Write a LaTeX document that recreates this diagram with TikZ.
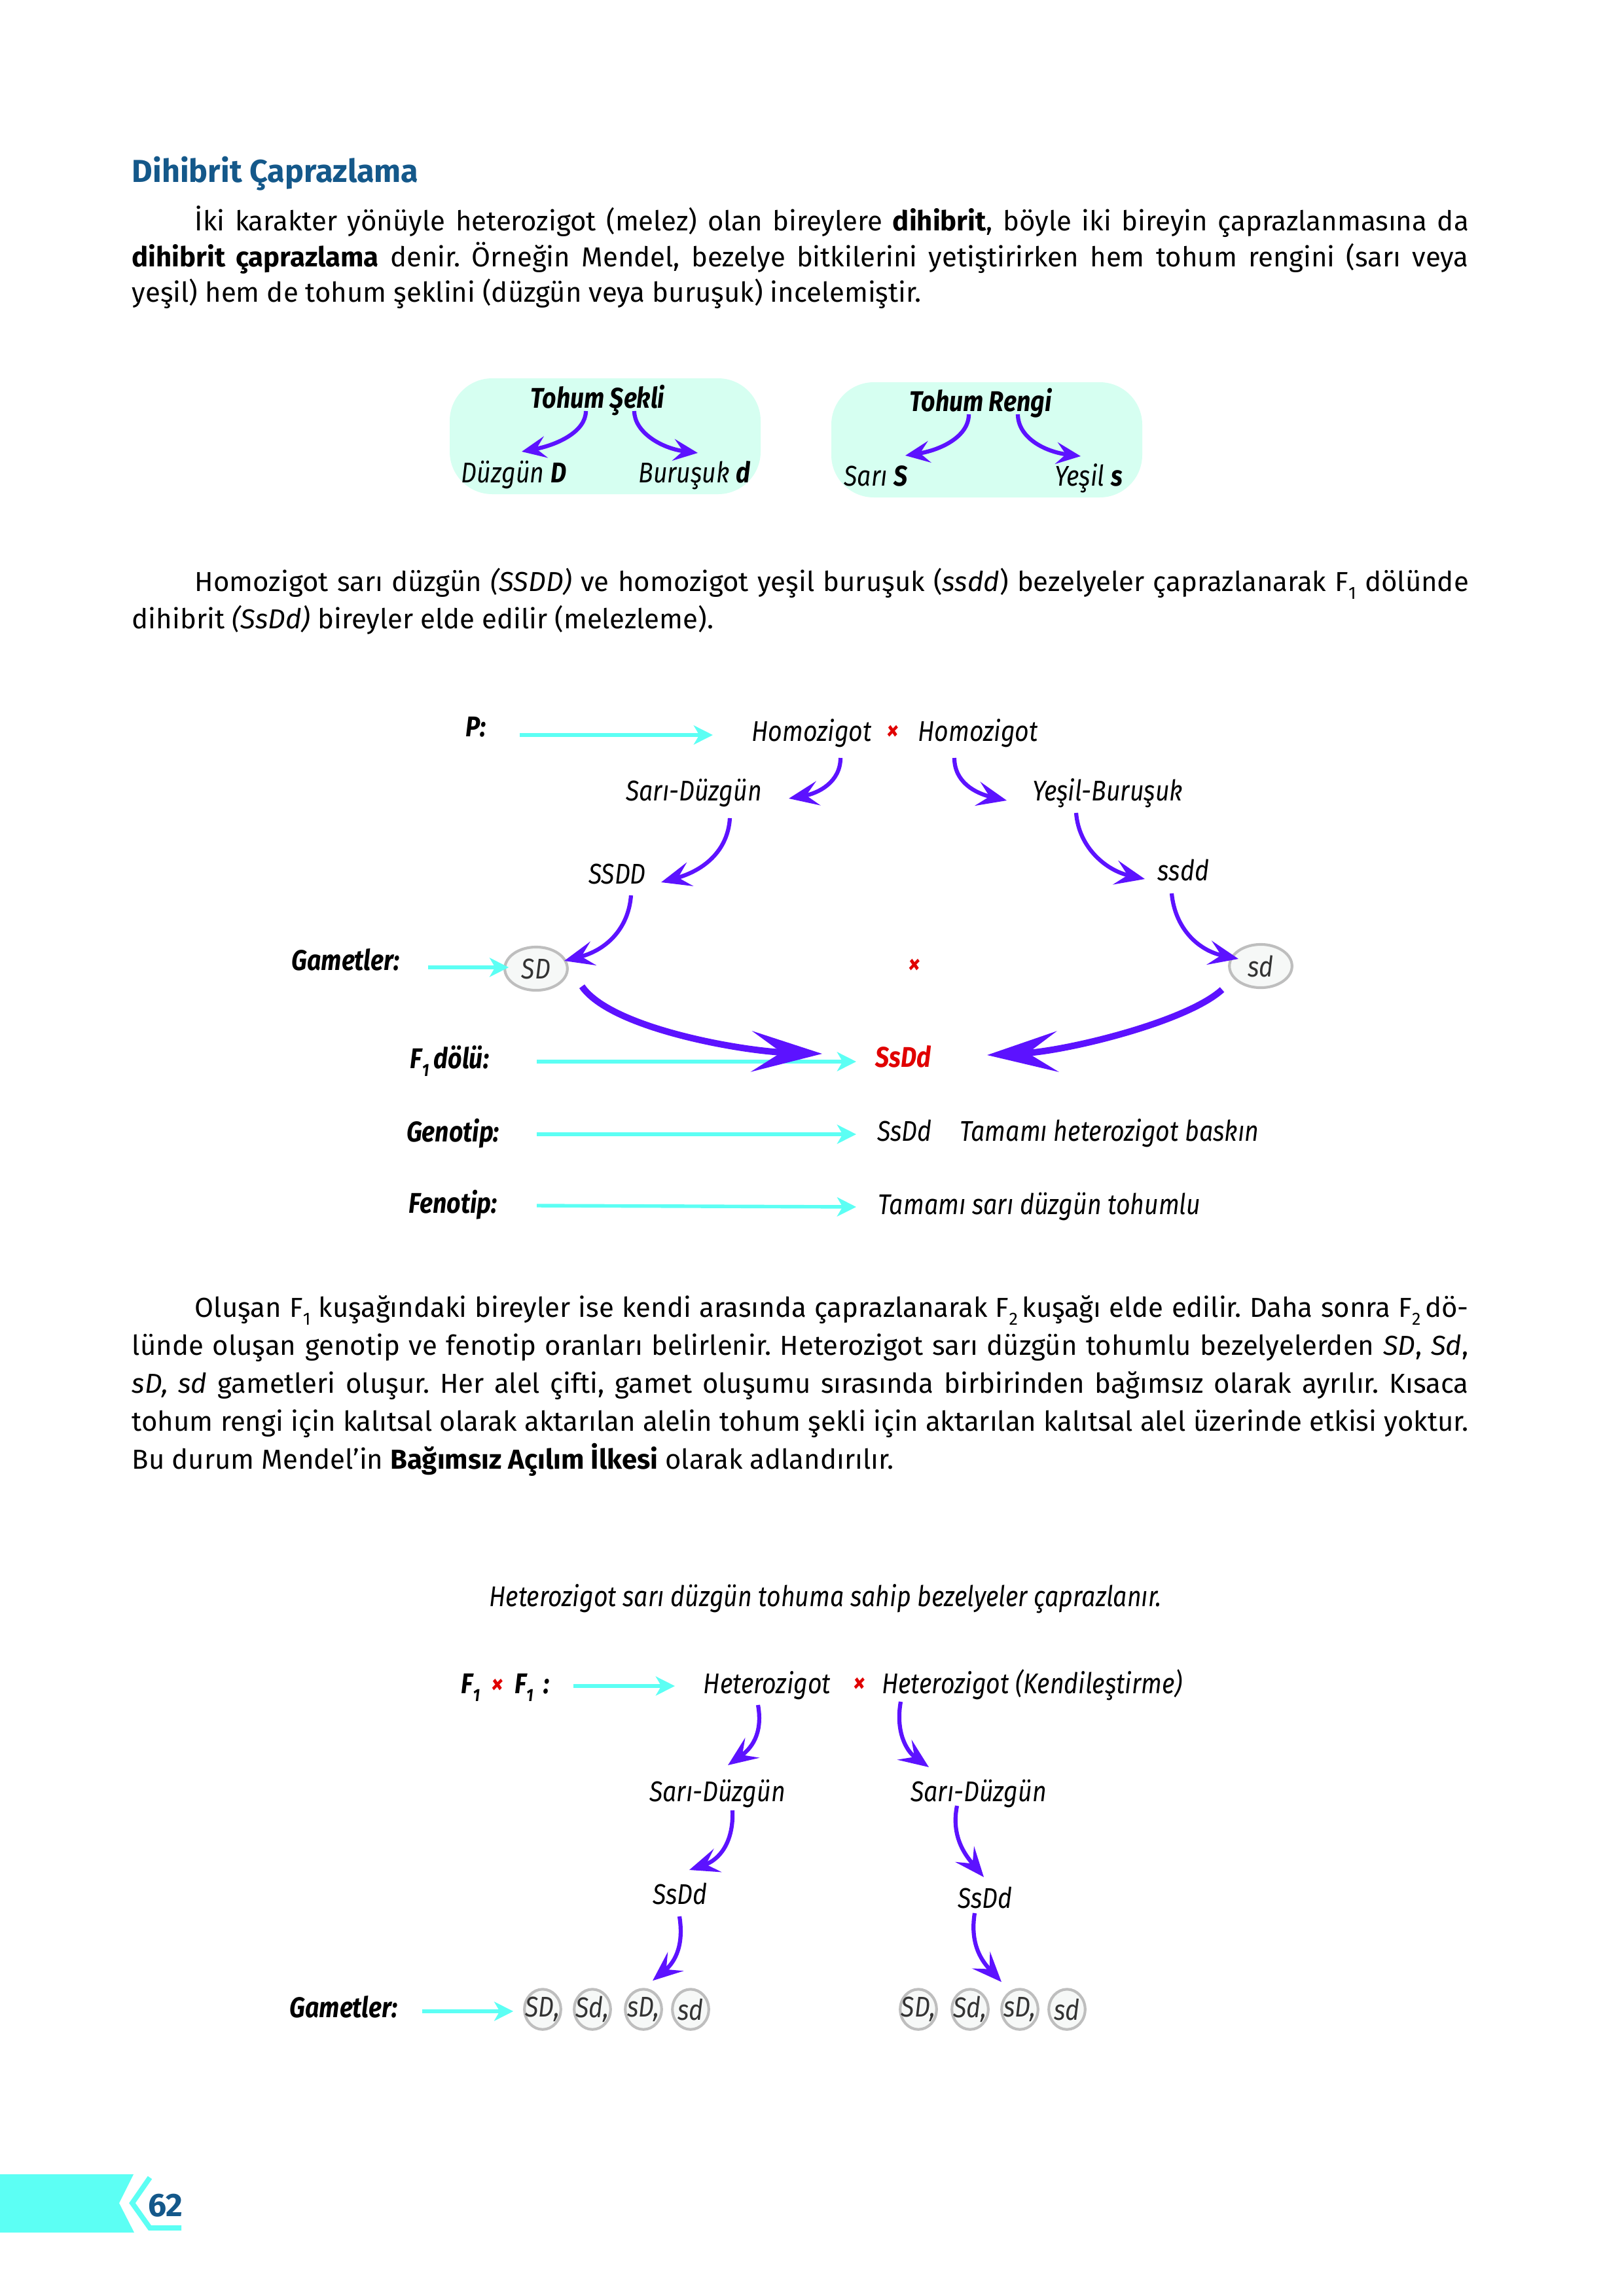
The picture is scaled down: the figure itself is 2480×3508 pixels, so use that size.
\documentclass[tikz,border=0pt]{standalone}
\usepackage{fontspec}
\setmainfont{Fira Sans}
\newfontfamily\lblfont[FakeStretch=0.86]{Fira Sans}
\usetikzlibrary{arrows.meta, calc, shapes.geometric}
\frenchspacing

\definecolor{titleblue}{RGB}{20,88,138}
\definecolor{arrowcyan}{RGB}{92,255,244}
\definecolor{arrowviolet}{RGB}{92,18,255}
\definecolor{boxmint}{RGB}{214,255,241}
\definecolor{crossred}{RGB}{224,0,0}
\definecolor{gametegray}{RGB}{190,190,190}
\definecolor{gametefill}{RGB}{246,248,247}

\newcommand\bodyfont{\fontsize{10.1}{13}\selectfont}
\newcommand\lblit{\lblfont\fontsize{10.5}{12}\selectfont\itshape}
\newcommand\lblbf{\lblfont\fontsize{10.5}{12}\selectfont\bfseries\itshape}
\newcommand\lowsub[1]{\raisebox{-0.55ex}{\fontsize{6.5}{6.5}\selectfont #1}}
\newcommand\fullline[1]{\makebox[17.29cm][s]{#1}}
\newcommand\indline[1]{\makebox[16.48cm][s]{#1}}

\tikzset{
  txt/.style={anchor=base west, inner sep=0, font=\bodyfont},
  lbl/.style={anchor=base, inner sep=0, font=\lblit},
  blbl/.style={anchor=base, inner sep=0, font=\lblbf},
  cross/.style={anchor=base, inner sep=0, font=\lblbf, text=crossred},
  carrow/.style={draw=arrowcyan, line width=1.3pt, -{Stealth[length=7pt, width=7pt, inset=2pt]}},
  varrow/.style={draw=arrowviolet, line width=1.5pt, -{Stealth[length=11pt, width=9pt, inset=4.5pt]}},
  bigarrow/.style={draw=arrowviolet, line width=2.4pt, -{Stealth[length=26pt, width=15pt, inset=11pt]}},
  gamete/.style={ellipse, draw=gametegray, fill=gametefill, line width=1pt, inner sep=0, font=\lblit, text=black!80},
}

\begin{document}
\begin{tikzpicture}[x=0.0084677cm, y=-0.0084677cm]
  \useasboundingbox (0,0) rectangle (2480,3508);

  % --- baslik ve ilk paragraf ---
  \node[txt, font=\fontsize{11.7}{14}\selectfont\bfseries, text=titleblue] (title) at (201,278) {Dihibrit Çaprazlama};
  \node[txt] (p1a) at (297,352) {\indline{İki karakter yönüyle heterozigot (melez) olan bireylere \textbf{dihibrit}, böyle iki bireyin çaprazlanmasına da}};
  \node[txt] (p1b) at (201,407) {\fullline{\textbf{dihibrit çaprazlama} denir. Örneğin Mendel, bezelye bitkilerini yetiştirirken hem tohum rengini (sarı veya}};
  \node[txt] (p1c) at (201,461) {yeşil) hem de tohum şeklini (düzgün veya buruşuk) incelemiştir.};

  % --- tohum kutulari ---
  \fill[boxmint, rounded corners=0.55cm] (687,578) rectangle (1162,755);
  \fill[boxmint, rounded corners=0.55cm] (1270,584) rectangle (1745,760);
  \node[blbl] (tsekli) at (913,623) {Tohum Şekli};
  \node[lbl] (duzgun) at (785,737) {Düzgün \textbf{D}};
  \node[lbl] (burusuk) at (1061,737) {Buruşuk \textbf{d}};
  \node[blbl] (trengi) at (1498,628) {Tohum Rengi};
  \node[lbl] (sari) at (1338,742) {Sarı \textbf{S}};
  \node[lbl] (yesil) at (1663,742) {Yeşil \textbf{s}};
  \draw[varrow, -{Stealth[length=9pt, width=8pt, inset=3.5pt]}] ($(tsekli.base)+(-18,5)$) .. controls +(0,32) and +(53,-10) .. ($(duzgun.base)+(12,-47)$);
  \draw[varrow, -{Stealth[length=9pt, width=8pt, inset=3.5pt]}] ($(tsekli.base)+(56,5)$) .. controls +(0,32) and +(-56,-7) .. ($(burusuk.base)+(5,-45)$);
  \draw[varrow, -{Stealth[length=9pt, width=8pt, inset=3.5pt]}] ($(trengi.base)+(-18,5)$) .. controls +(0,35) and +(52,-8) .. ($(sari.base)+(45,-46)$);
  \draw[varrow, -{Stealth[length=9pt, width=8pt, inset=3.5pt]}] ($(trengi.base)+(57,5)$) .. controls +(0,35) and +(-56,-7) .. ($(yesil.base)+(-12,-45)$);

  % --- ikinci paragraf ---
  \node[txt] (p2a) at (297,903) {\indline{Homozigot sarı düzgün \textit{(SSDD)} ve homozigot yeşil buruşuk (\textit{ssdd}) bezelyeler çaprazlanarak F\lowsub{1} dölünde}};
  \node[txt] (p2b) at (201,960) {dihibrit \textit{(SsDd)} bireyler elde edilir (melezleme).};

  % --- P capraz ---
  \node[blbl] (lblP) at (727,1125) {P:};
  \node[lbl] (homoA) at (1240,1132) {Homozigot};
  \node[cross] (crossA) at (1364,1130) {×};
  \node[lbl] (homoB) at (1494,1132) {Homozigot};
  \node[lbl] (saridzA) at (1060,1223) {Sarı-Düzgün};
  \node[lbl] (yesilbr) at (1692,1223) {Yeşil-Buruşuk};
  \node[lbl] (ssddA) at (943,1350) {SSDD};
  \node[lbl] (ssddB) at (1808,1345) {ssdd};
  \node[blbl] (gamA) at (528,1482) {Gametler:};
  \node[gamete, minimum width=0.81cm, minimum height=0.56cm] (gSD) at (819,1480) {SD};
  \node[cross] (crossB) at (1397,1487) {×};
  \node[gamete, minimum width=0.81cm, minimum height=0.56cm] (gsd) at (1926,1476) {sd};
  \node[blbl] (f1lbl) at (687,1632) {F\lowsub{1}\,dölü:};
  \node[blbl, text=crossred] (ssdF1) at (1380,1630) {SsDd};
  \node[blbl] (genlbl) at (692,1744) {Genotip:};
  \node[lbl] (genval) at (1382,1743) {SsDd};
  \node[lbl] (genexp) at (1695,1743) {Tamamı heterozigot baskın};
  \node[blbl] (fenlbl) at (692,1853) {Fenotip:};
  \node[lbl] (fenval) at (1588,1855) {Tamamı sarı düzgün tohumlu};

  \draw[carrow] ($(lblP.base)+(67,-2)$) -- ($(homoA.base)+(-151,-9)$);
  \draw[carrow] ($(gamA.base)+(126,-4)$) -- ($(gSD.west)+(8,-2)$);
  \draw[carrow] ($(f1lbl.base)+(133,-10)$) -- ($(ssdF1.base)+(-72,-8)$);
  \draw[carrow] ($(genlbl.base)+(128,-11)$) -- ($(genval.base)+(-74,-10)$);
  \draw[carrow] ($(fenlbl.base)+(128,-11)$) -- ($(fenval.base)+(-280,-11)$);

  \draw[varrow] ($(homoA.base)+(44,26)$) .. controls +(0,37) and +(45,-8) .. ($(saridzA.base)+(145,-3)$);
  \draw[varrow] ($(homoB.base)+(-36,26)$) .. controls +(0,37) and +(-48,-11) .. ($(yesilbr.base)+(-154,0)$);
  \draw[varrow] ($(saridzA.base)+(55,27)$) .. controls +(-3,50) and +(65,-18) .. ($(ssddA.base)+(67,-2)$);
  \draw[varrow] ($(yesilbr.base)+(-48,19)$) .. controls +(4,53) and +(-59,-13) .. ($(ssddB.base)+(-59,-2)$);
  \draw[varrow] ($(ssddA.base)+(21,18)$) .. controls +(-4,52) and +(63,-16) .. ($(gSD.center)+(43,-12)$);
  \draw[varrow] ($(ssddB.base)+(-18,20)$) .. controls +(5,53) and +(-62,-13) .. ($(gsd.center)+(-34,-11)$);
  \draw[bigarrow] ($(gSD.center)+(70,27)$) .. controls +(45,65) and +(-120,-4) .. ($(ssdF1.base)+(-124,-20)$);
  \draw[bigarrow] ($(gsd.center)+(-59,36)$) .. controls +(-55,50) and +(120,-6) .. ($(ssdF1.base)+(128,-18)$);

  % --- ucuncu paragraf ---
  \node[txt] (p3a) at (297,2012) {\indline{Oluşan F\lowsub{1} kuşağındaki bireyler ise kendi arasında çaprazlanarak F\lowsub{2}\,kuşağı elde edilir. Daha sonra F\lowsub{2}\,dö-}};
  \node[txt] (p3b) at (201,2070) {\fullline{lünde oluşan genotip ve fenotip oranları belirlenir. Heterozigot sarı düzgün tohumlu bezelyelerden \textit{SD}, \textit{Sd},}};
  \node[txt] (p3c) at (201,2128) {\fullline{\textit{sD, sd} gametleri oluşur. Her alel çifti, gamet oluşumu sırasında birbirinden bağımsız olarak ayrılır. Kısaca}};
  \node[txt] (p3d) at (201,2186) {\fullline{tohum rengi için kalıtsal olarak aktarılan alelin tohum şekli için aktarılan kalıtsal alel üzerinde etkisi yoktur.}};
  \node[txt] (p3e) at (201,2244) {Bu durum Mendel’in \textbf{Bağımsız Açılım İlkesi} olarak adlandırılır.};

  % --- F1 x F1 capraz ---
  \node[lbl] (title2) at (1261,2454) {Heterozigot sarı düzgün tohuma sahip bezelyeler çaprazlanır.};
  \node[blbl] (f1f1) at (772,2587) {F\lowsub{1}\ \ \textcolor{crossred}{×}\ \ F\lowsub{1}\ \,:};
  \node[lbl] (hetA) at (1172,2587) {Heterozigot};
  \node[cross] (crossC) at (1313,2585) {×};
  \node[lbl] (hetB) at (1577,2587) {Heterozigot (Kendileştirme)};
  \node[lbl] (sdz1) at (1096,2752) {Sarı-Düzgün};
  \node[lbl] (sdz2) at (1495,2752) {Sarı-Düzgün};
  \node[lbl] (ssdd1) at (1039,2909) {SsDd};
  \node[lbl] (ssdd2) at (1505,2915) {SsDd};
  \node[blbl] (gamB) at (525,3082) {Gametler:};
  \foreach \gx/\gt/\gn in {829/{SD,}/g1, 905/{Sd,}/g2, 983/{sD,}/g3, 1055/{sd}/g4,
                           1403/{SD,}/g5, 1482/{Sd,}/g6, 1558/{sD,}/g7, 1630/{sd}/g8}
    \node[gamete, minimum width=0.47cm, minimum height=0.52cm] (\gn) at (\gx,3070) {\makebox[0pt]{\gt}};

  \draw[carrow] ($(f1f1.base)+(104,-11)$) -- ($(hetA.base)+(-141,-11)$);
  \draw[carrow] ($(gamB.base)+(120,-9)$) -- ($(g1.west)+(-15,3)$);

  \draw[varrow] ($(hetA.base)+(-14,18)$) .. controls +(8,45) and +(35,-25) .. ($(sdz1.base)+(16,-55)$);
  \draw[varrow] ($(hetB.base)+(-201,13)$) .. controls +(-8,45) and +(-35,-25) .. ($(sdz2.base)+(-76,-52)$);
  \draw[varrow] ($(sdz1.base)+(23,14)$) .. controls +(2,50) and +(45,-15) .. ($(ssdd1.base)+(14,-52)$);
  \draw[varrow] ($(sdz2.base)+(-33,7)$) .. controls +(-10,50) and +(-25,-30) .. ($(ssdd2.base)+(-2,-47)$);
  \draw[varrow] ($(ssdd1.base)+(-1,19)$) .. controls +(8,50) and +(30,-25) .. ($(g3.north)+(14,-11)$);
  \draw[varrow] ($(ssdd2.base)+(-16,8)$) .. controls +(-8,50) and +(-28,-30) .. ($(g7.north)+(-28,-9)$);

  % --- sayfa numarasi ---
  \fill[arrowcyan] (0,3322) -- (204,3322) -- (182,3366) -- (205,3411) -- (0,3411) -- cycle;
  \draw[arrowcyan, line width=1.9pt] (229,3327) -- (202,3366) -- (229,3404) -- (277,3404);
  \node[inner sep=0, font=\fontsize{12}{12}\selectfont\bfseries, text=titleblue] (pageno) at (253,3370) {62};
\end{tikzpicture}
\end{document}
